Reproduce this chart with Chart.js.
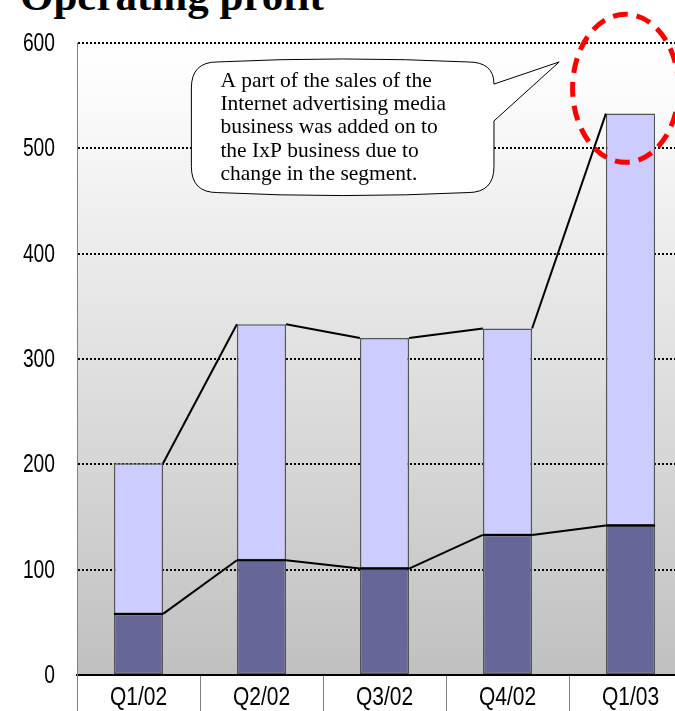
<!DOCTYPE html>
<html>
<head>
<meta charset="utf-8">
<script src="https://cdn.jsdelivr.net/npm/chart.js@4/dist/chart.umd.min.js"></script>
<style>
  html, body { margin: 0; padding: 0; background: #fff; overflow: hidden; }
  #wrap { position: relative; width: 675px; height: 711px; overflow: hidden; }
  #title {
    position: absolute; left: 20px; top: -29px; margin: 0;
    font: bold 43px "Liberation Serif", "Times New Roman", serif; color: #000;
    white-space: nowrap;
  }
  canvas { position: absolute; left: 0; top: 0; }
</style>
</head>
<body>
<div id="wrap">
  <h1 id="title">Operating profit</h1>
  <canvas id="profitChart" width="700" height="711"></canvas>
</div>
<script>
// quarterly operating profit, two stacked segments
const quarters = ['Q1/02', 'Q2/02', 'Q3/02', 'Q4/02', 'Q1/03'];
const lowerSegment = [58, 109, 101, 133, 142];
const upperSegment = [143, 224, 219, 196, 391];
const yTicks = [0, 100, 200, 300, 400, 500, 600];

const noteLines = [
  'A part of the sales of the',
  'Internet advertising media',
  'business was added on to',
  'the IxP business due to',
  'change in the segment.'
];

const labelFont = '25px "Liberation Sans", Arial, sans-serif';

// grey gradient behind the plot area
const plotBackground = {
  id: 'plotBackground',
  beforeDraw(chart) {
    const { ctx, chartArea: a } = chart;
    const g = ctx.createLinearGradient(0, a.top, 0, a.bottom);
    g.addColorStop(0, '#ffffff');
    g.addColorStop(0.1, '#fafafa');
    g.addColorStop(1, '#c0c0c0');
    ctx.save();
    ctx.fillStyle = g;
    ctx.fillRect(a.left, a.top, a.right - a.left, a.bottom - a.top);
    ctx.restore();
  }
};

// condensed axis labels (no narrow face installed, so squeeze the regular one)
const narrowLabels = {
  id: 'narrowLabels',
  afterDraw(chart) {
    const { ctx } = chart;
    const xs = chart.scales.x, ys = chart.scales.y;
    ctx.save();
    ctx.fillStyle = '#000';
    ctx.font = labelFont;
    ctx.textBaseline = 'middle';
    ys.ticks.forEach(t => {
      const y = ys.getPixelForValue(t.value);
      ctx.save();
      ctx.translate(ys.right - 22, y + 1);
      ctx.scale(0.77, 1);
      ctx.textAlign = 'right';
      ctx.fillText(String(t.value), 0, 0);
      ctx.restore();
    });
    quarters.forEach((q, i) => {
      ctx.save();
      ctx.translate(xs.getPixelForValue(i), xs.top + 23);
      ctx.scale(0.84, 1);
      ctx.textAlign = 'center';
      ctx.fillText(q, 0, 0);
      ctx.restore();
    });
    ctx.restore();
  }
};

// connector lines between the tops of neighbouring stacked bars
const seriesLines = {
  id: 'seriesLines',
  afterDatasetsDraw(chart) {
    const { ctx } = chart;
    ctx.save();
    ctx.strokeStyle = '#000';
    ctx.lineWidth = 2;
    chart.data.datasets.forEach((ds, di) => {
      const bars = chart.getDatasetMeta(di).data;
      for (let i = 0; i < bars.length - 1; i++) {
        const a = bars[i], b = bars[i + 1];
        ctx.beginPath();
        ctx.moveTo(a.x + a.width / 2, a.y);
        ctx.lineTo(b.x - b.width / 2, b.y);
        ctx.stroke();
      }
      // dark rule where the lower segment meets the upper one
      if (di === 0) {
        bars.forEach(bar => {
          ctx.beginPath();
          ctx.moveTo(bar.x - bar.width / 2, bar.y);
          ctx.lineTo(bar.x + bar.width / 2, bar.y);
          ctx.stroke();
        });
      }
    });
    ctx.restore();
  }
};

// speech bubble note and the dashed ring round the last bar
const noteBubble = {
  id: 'noteBubble',
  afterDraw(chart) {
    const { ctx } = chart;
    const xs = chart.scales.x, ys = chart.scales.y;
    const left = xs.getPixelForValue(0.43), right = xs.getPixelForValue(2.89);
    const top = ys.getPixelForValue(582), bottom = ys.getPixelForValue(458);
    const r = 26;
    const tipX = xs.getPixelForValue(3.42), tipY = ys.getPixelForValue(582);
    const p1 = ys.getPixelForValue(561), p2 = ys.getPixelForValue(526);

    ctx.save();
    ctx.beginPath();
    ctx.moveTo(left + r, top);
    ctx.quadraticCurveTo((left + right) / 2, top - 6, right - r, top);
    ctx.quadraticCurveTo(right, top, right, p1);
    ctx.lineTo(tipX, tipY);
    ctx.lineTo(right, p2);
    ctx.lineTo(right, bottom - r);
    ctx.quadraticCurveTo(right, bottom, right - r, bottom);
    ctx.quadraticCurveTo((left + right) / 2, bottom + 6, left + r, bottom);
    ctx.quadraticCurveTo(left, bottom, left, bottom - r);
    ctx.lineTo(left, top + r);
    ctx.quadraticCurveTo(left, top, left + r, top);
    ctx.closePath();
    ctx.fillStyle = '#fff';
    ctx.fill();
    ctx.strokeStyle = '#000';
    ctx.lineWidth = 1;
    ctx.stroke();

    ctx.fillStyle = '#000';
    ctx.font = '21.5px "Liberation Serif", "Times New Roman", serif';
    ctx.textBaseline = 'alphabetic';
    noteLines.forEach((line, i) => {
      ctx.fillText(line, left + 29, top + 25 + i * 23.2);
    });

    // red dashed ellipse
    const cx = xs.getPixelForValue(3.96), cy = ys.getPixelForValue(557);
    ctx.beginPath();
    ctx.setLineDash([15, 9]);
    ctx.lineWidth = 5;
    ctx.strokeStyle = '#ff0000';
    ctx.ellipse(cx, cy, 53, 74, 0, 0, Math.PI * 2);
    ctx.stroke();
    ctx.restore();
  }
};

const ctx = document.getElementById('profitChart').getContext('2d');
new Chart(ctx, {
  type: 'bar',
  data: {
    labels: quarters,
    datasets: [
      {
        data: lowerSegment,
        backgroundColor: '#666699',
        borderColor: '#555555',
        borderWidth: 1.5,
        borderSkipped: false,
        barPercentage: 0.4,
        categoryPercentage: 1
      },
      {
        data: upperSegment,
        backgroundColor: '#ccccff',
        borderColor: '#555555',
        borderWidth: 1.5,
        borderSkipped: false,
        barPercentage: 0.4,
        categoryPercentage: 1
      }
    ]
  },
  options: {
    responsive: false,
    animation: false,
    layout: { padding: { top: 43, right: 8, left: 0, bottom: 0 } },
    plugins: {
      legend: { display: false },
      tooltip: { enabled: false }
    },
    scales: {
      x: {
        stacked: true,
        afterFit(scale) { scale.height = 36; },
        grid: {
          offset: true,
          drawOnChartArea: false,
          tickLength: 40,
          color: '#808080',
          lineWidth: 1
        },
        border: { display: true, color: '#000', width: 2 },
        ticks: { display: false }
      },
      y: {
        stacked: true,
        min: 0,
        max: 600,
        afterFit(scale) { scale.width = 77; },
        afterBuildTicks(scale) { scale.ticks = yTicks.map(v => ({ value: v })); },
        grid: {
          drawTicks: false,
          color: '#000',
          lineWidth: 2
        },
        border: { display: true, color: '#808080', width: 1, dash: [2, 2] },
        ticks: { display: false }
      }
    }
  },
  plugins: [plotBackground, seriesLines, narrowLabels, noteBubble]
});
</script>
</body>
</html>
